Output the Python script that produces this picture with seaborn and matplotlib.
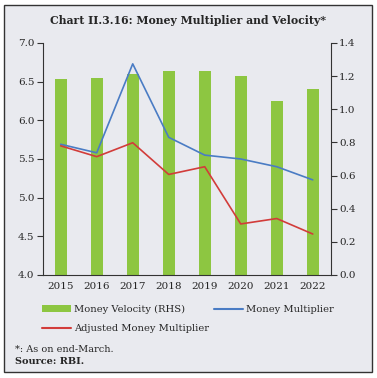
import numpy as np
import pandas as pd
import seaborn as sns
import matplotlib.pyplot as plt
from matplotlib.patches import Rectangle, Patch
from matplotlib.lines import Line2D

# -------------------------------
# Data
# -------------------------------
years = ['2015', '2016', '2017', '2018', '2019', '2020', '2021', '2022']
velocity = [1.18, 1.19, 1.21, 1.23, 1.23, 1.20, 1.05, 1.12]          # RHS
money_multiplier = [5.69, 5.58, 6.73, 5.78, 5.55, 5.50, 5.40, 5.23]
adj_multiplier = [5.67, 5.53, 5.71, 5.30, 5.40, 4.66, 4.73, 4.53]

GREEN = '#8dc641'
BLUE = '#4a7cc4'
RED = '#d23c3a'
BG = '#e9eaef'

sns.set_style('white')
plt.rcParams['font.family'] = ['DejaVu Serif']
plt.rcParams['font.size'] = 7.5

fig = plt.figure(figsize=(3.77, 3.78), dpi=100)
fig.patch.set_facecolor('white')
fig.patches.append(Rectangle((4 / 377, 1 - 372 / 378), 368 / 377, 367 / 378,
                             transform=fig.transFigure, facecolor=BG,
                             edgecolor='#333333', linewidth=1.0, zorder=-10))

ax = fig.add_axes([0.1133, 0.2725, 0.764, 0.6138])
ax2 = ax.twinx()

df = pd.DataFrame({'year': years, 'pos': np.arange(len(years)),
                   'velocity': velocity, 'mm': money_multiplier,
                   'amm': adj_multiplier})

# bars on the right axis
sns.barplot(data=df, x='year', y='velocity', ax=ax2, color=GREEN,
            saturation=1, width=0.33, linewidth=0, edgecolor='none')

# lines on the left axis
sns.lineplot(data=df, x='pos', y='mm', ax=ax, color=BLUE, linewidth=1.2)
sns.lineplot(data=df, x='pos', y='amm', ax=ax, color=RED, linewidth=1.2)

ax.set_zorder(ax2.get_zorder() + 1)
ax.patch.set_visible(False)
ax2.patch.set_visible(False)

ax.set_xlim(-0.5, len(years) - 0.5)
ax.set_ylim(4.0, 7.0)
ax2.set_ylim(0.0, 1.4)
ax.set_yticks(np.arange(4.0, 7.01, 0.5))
ax.set_yticklabels([f'{v:.1f}' for v in np.arange(4.0, 7.01, 0.5)])
ax2.set_yticks(np.arange(0.0, 1.41, 0.2))
ax2.set_yticklabels([f'{v:.1f}' for v in np.arange(0.0, 1.41, 0.2)])

# ticks between categories, labels centred
ax.set_xticks(np.arange(-0.5, len(years), 1.0))
ax.set_xticklabels([])
ax.set_xticks(np.arange(len(years)), minor=True)
ax.set_xticklabels(years, minor=True)
ax.tick_params(axis='x', which='minor', length=0, pad=5)
ax2.set_xticks([])

for a in (ax, ax2):
    a.set_xlabel('')
    a.set_ylabel('')
    a.spines['top'].set_visible(False)
    for s in ('left', 'right', 'bottom'):
        a.spines[s].set_color('#333333')
        a.spines[s].set_linewidth(0.8)
ax.spines['right'].set_visible(False)
ax2.spines['left'].set_visible(False)
ax2.spines['bottom'].set_visible(False)
ax.tick_params(axis='both', which='major', direction='out', length=4,
               width=0.8, color='#333333', labelsize=7.5, pad=2)
ax2.tick_params(axis='y', direction='out', length=4, width=0.8,
                color='#333333', labelsize=7.5, pad=2)

fig.text(0.5, 1 - 21 / 378, 'Chart II.3.16: Money Multiplier and Velocity*',
         ha='center', va='center', fontsize=7.8, fontweight='bold')

handles = [Patch(facecolor=GREEN, edgecolor='none'),
           Line2D([], [], color=RED, linewidth=1.5),
           Line2D([], [], color=BLUE, linewidth=1.5)]
labels = ['Money Velocity (RHS)', 'Adjusted Money Multiplier', 'Money Multiplier']
fig.legend(handles, labels, ncol=2, loc='upper left',
           bbox_to_anchor=(33 / 377, 1 - 296 / 378), frameon=False,
           fontsize=7.1, handlelength=3.0, handleheight=0.6,
           handletextpad=0.3, columnspacing=0.45, labelspacing=1.0)

fig.text(15 / 377, 1 - 349 / 378, '*: As on end-March.', ha='left',
         va='center', fontsize=7)
fig.text(15 / 377, 1 - 361 / 378, 'Source: RBI.', ha='left', va='center',
         fontsize=7, fontweight='bold')

fig.savefig('out.png', dpi=100, facecolor=fig.get_facecolor())
